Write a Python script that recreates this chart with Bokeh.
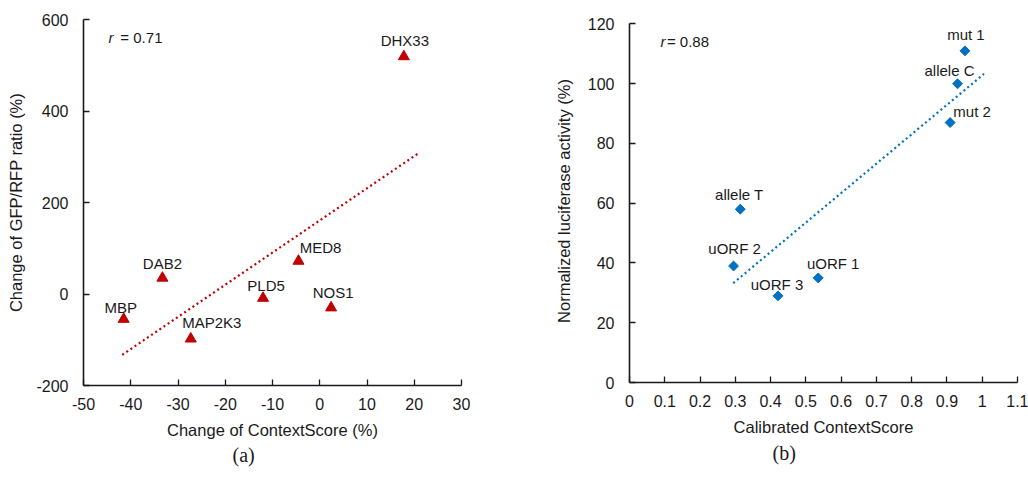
from bokeh.plotting import figure
from bokeh.layouts import row
from bokeh.models import (FixedTicker, NumeralTickFormatter, PrintfTickFormatter, Label, Title,
                          ColumnDataSource, Range1d)
from bokeh.embed import file_html
from bokeh.resources import INLINE
from bokeh.core.properties import value
import numpy as np

# ---------------- Panel (a) data ----------------
genes = ["MBP", "DAB2", "MAP2K3", "PLD5", "MED8", "NOS1", "DHX33"]
ctx_change = [-41.5, -33.3, -27.3, -12.0, -4.5, 2.4, 17.8]
gfp_change = [-55, 35, -98, -9, 72, -30, 519]
trend_a_x = [-41.8, 20.9]
xticks_a = [-50, -40, -30, -20, -10, 0, 10, 20, 30]
yticks_a = [-200, 0, 200, 400, 600]
r_a = "0.71"

# ---------------- Panel (b) data ----------------
constructs = ["mut 1", "allele C", "mut 2", "allele T", "uORF 2", "uORF 3", "uORF 1"]
calib_score = [0.951, 0.930, 0.909, 0.314, 0.295, 0.421, 0.535]
luciferase = [111, 100, 87, 58, 39, 29, 35]
trend_b_x = [0.294, 1.005]
xticks_b = [0, 0.1, 0.2, 0.3, 0.4, 0.5, 0.6, 0.7, 0.8, 0.9, 1.0, 1.1]
yticks_b = [0, 20, 40, 60, 80, 100, 120]
r_b = "0.88"

# label offsets in pixels (style)
off_a_x = [-3, 0, 21, 3, 22, 2, 1]
off_a_y = [-12, -14, -16, -13, -14, -15, -16]
off_b_x = [1, -8, 22, -1, 1, -1, 15]
off_b_y = [-16, -13, -11, -15, -17, -11, -14]

FONT = "Liberation Sans"
RED = "#C00000"
BLUE = "#0070C0"
INK = "#1a1a1a"


def style(p):
    p.outline_line_color = None
    p.grid.visible = False
    p.background_fill_color = "white"
    p.border_fill_color = "white"
    for ax in p.axis:
        ax.axis_line_color = INK
        ax.axis_line_width = 1.6
        ax.major_tick_line_color = INK
        ax.major_tick_line_width = 1.3
        ax.major_tick_in = 6
        ax.major_tick_out = 0
        ax.minor_tick_line_color = None
        ax.major_label_text_font = FONT
        ax.major_label_text_font_size = "16px"
        ax.major_label_text_color = INK
        ax.axis_label_text_font = FONT
        ax.axis_label_text_font_size = "16.5px"
        ax.axis_label_text_font_style = "normal"
        ax.axis_label_text_color = INK
    p.xaxis.major_label_standoff = 12
    p.yaxis.major_label_standoff = 15
    p.xaxis.axis_label_standoff = 8


def fit_line(xs, ys, xr):
    k, b = np.polyfit(xs, ys, 1)
    xr = np.array(xr, dtype=float)
    return xr, k * xr + b


# ---------------- Figure (a) ----------------
p1 = figure(frame_width=378, frame_height=366, x_range=Range1d(-50, 30), y_range=Range1d(-200, 600),
            output_backend="svg", toolbar_location=None,
            min_border_left=83, min_border_right=39, min_border_top=19, min_border_bottom=100)
style(p1)
p1.xaxis.ticker = FixedTicker(ticks=xticks_a)
p1.yaxis.ticker = FixedTicker(ticks=yticks_a)
p1.xaxis.formatter = PrintfTickFormatter(format="%d")
p1.yaxis.formatter = PrintfTickFormatter(format="%d")
p1.yaxis.axis_label_standoff = 8
p1.xaxis.axis_label = "Change of ContextScore (%)"
p1.yaxis.axis_label = "Change of GFP/RFP ratio (%)"

tx, ty = fit_line(ctx_change, gfp_change, trend_a_x)
p1.line(tx, ty, line_color=RED, line_width=2.2, line_dash="2 3")

src_a = ColumnDataSource(dict(x=ctx_change, y=gfp_change, t=genes, dx=off_a_x, dy=off_a_y))
p1.scatter("x", "y", source=src_a, marker="triangle", size=11, fill_color=RED, line_color=RED)
p1.text("x", "y", text="t", source=src_a, x_offset="dx", y_offset="dy",
        text_align="center", text_baseline="middle", text_font=value(FONT),
        text_font_size="15px", text_color=INK)

p1.add_layout(Label(x=-44.7, y=561, text="r", text_font=FONT, text_font_style="italic",
                    text_font_size="15px", text_baseline="middle", text_color=INK))
p1.add_layout(Label(x=-42.2, y=561, text="= " + r_a, text_font=FONT,
                    text_font_size="15px", text_baseline="middle", text_color=INK))
p1.add_layout(Title(text="(a)", align="left", offset=149, text_font="Liberation Serif",
                    text_font_size="20px", text_font_style="normal", text_color=INK,
                    standoff=0), "below")

# ---------------- Figure (b) ----------------
p2 = figure(frame_width=388, frame_height=363, x_range=Range1d(0, 1.1), y_range=Range1d(0, 121.5),
            output_backend="svg", toolbar_location=None,
            min_border_left=129, min_border_right=11, min_border_top=19, min_border_bottom=100)
style(p2)
p2.xaxis.ticker = FixedTicker(ticks=xticks_b)
p2.xaxis.formatter = NumeralTickFormatter(format="0.[0]")
p2.yaxis.ticker = FixedTicker(ticks=yticks_b)
p2.yaxis.bounds = (0, 120)
p2.yaxis.axis_label_standoff = 12
p2.xaxis.axis_label = "Calibrated ContextScore"
p2.yaxis.axis_label = "Normalized luciferase activity (%)"

tx, ty = fit_line(calib_score, luciferase, trend_b_x)
p2.line(tx, ty, line_color=BLUE, line_width=2.2, line_dash="2 3")

src_b = ColumnDataSource(dict(x=calib_score, y=luciferase, t=constructs, dx=off_b_x, dy=off_b_y))
p2.scatter("x", "y", source=src_b, marker="square", angle=np.pi / 4, size=7,
           fill_color=BLUE, line_color=BLUE)
p2.text("x", "y", text="t", source=src_b, x_offset="dx", y_offset="dy",
        text_align="center", text_baseline="middle", text_font=value(FONT),
        text_font_size="15px", text_color=INK)

p2.add_layout(Label(x=0.088, y=114.1, text="r", text_font=FONT, text_font_style="italic",
                    text_font_size="15px", text_baseline="middle", text_color=INK))
p2.add_layout(Label(x=0.106, y=114.1, text="= " + r_b, text_font=FONT,
                    text_font_size="15px", text_baseline="middle", text_color=INK))
p2.add_layout(Title(text="(b)", align="left", offset=143, text_font="Liberation Serif",
                    text_font_size="20px", text_font_style="normal", text_color=INK,
                    standoff=3), "below")

layout = row(p1, p2)
open("out.html", "w").write(file_html(layout, INLINE))
